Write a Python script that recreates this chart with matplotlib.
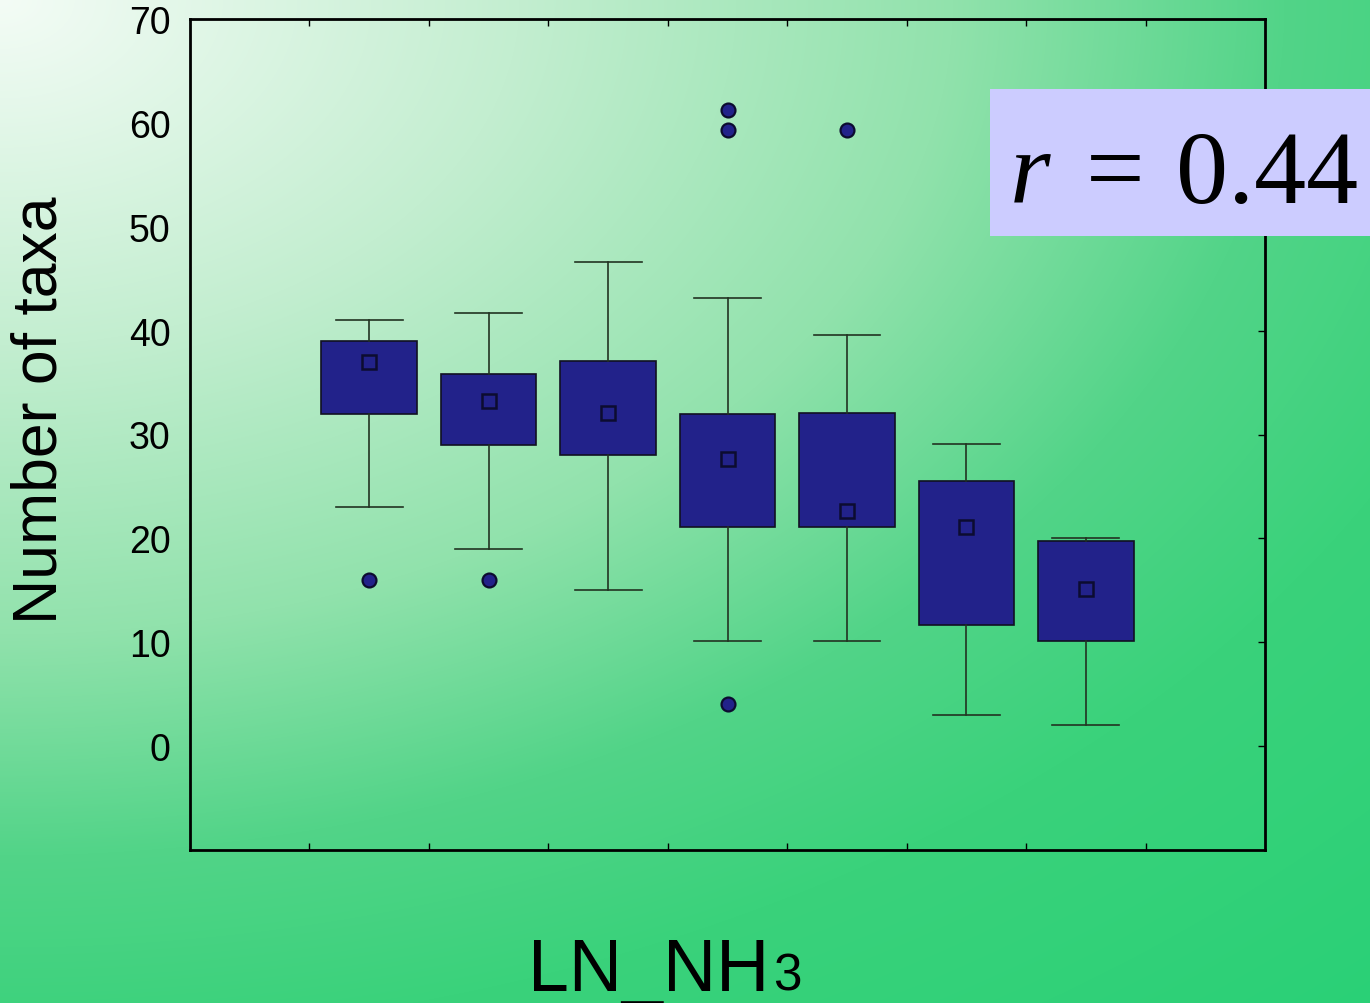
import matplotlib
matplotlib.use('Agg')
import matplotlib.pyplot as plt
import numpy as np
from matplotlib.patches import Rectangle

plt.rcParams['font.family'] = ['Liberation Sans', 'DejaVu Sans']

# box statistics (number of taxa per LN_NH3 class)
positions = [1.5, 2.5, 3.5, 4.5, 5.5, 6.5, 7.5]
whisker_low = [23.0, 19.0, 15.0, 10.1, 10.1, 3.0, 2.0]
q1 = [32.0, 29.0, 28.0, 21.1, 21.1, 11.7, 10.1]
q3 = [39.0, 35.8, 37.1, 32.0, 32.1, 25.5, 19.7]
whisker_high = [41.0, 41.7, 46.6, 43.1, 39.6, 29.1, 20.0]
means = [37.0, 33.2, 32.1, 27.6, 22.6, 21.1, 15.1]
outliers = [[16.0], [16.0], [], [61.2, 59.3, 4.1], [59.3], [], []]
y_ticks = [0, 10, 20, 30, 40, 50, 60, 70]
r_value = '0.44'

navy = '#22228a'

fig = plt.figure(figsize=(13.7, 10.04), dpi=100)

# background gradient (light top-left corner fading to green)
W, H = 1370, 1004
xx, yy = np.meshgrid(np.arange(W), np.arange(H))
d = np.sqrt((xx / 1.5) ** 2 + yy ** 2)
stops = [0, 346, 635, 856, 1040, 1400]
reds = [244, 195, 145, 82, 58, 40]
greens = [252, 238, 226, 212, 210, 208]
blues = [246, 208, 172, 136, 123, 118]
img = np.dstack([np.interp(d, stops, reds), np.interp(d, stops, greens),
                 np.interp(d, stops, blues)]) / 255.0
bg = fig.add_axes([0, 0, 1, 1], zorder=-1)
bg.imshow(img, aspect='auto', extent=[0, 1, 0, 1], origin='upper')
bg.axis('off')

ax = fig.add_axes([190 / W, 1 - 851 / H, 1075 / W, 831 / H], zorder=1)
ax.set_facecolor('none')

stats = []
for i in range(len(positions)):
    stats.append(dict(whislo=whisker_low[i], q1=q1[i], med=means[i], q3=q3[i],
                      whishi=whisker_high[i], mean=means[i], fliers=outliers[i]))

ax.bxp(stats, positions=positions, widths=0.8, capwidths=0.56, patch_artist=True,
       showmeans=True, showfliers=True,
       boxprops=dict(facecolor=navy, edgecolor='#111122', linewidth=1.2),
       whiskerprops=dict(color='#223322', linewidth=1.2),
       capprops=dict(color='#223322', linewidth=1.2),
       medianprops=dict(linewidth=0),
       meanprops=dict(marker='s', markersize=10, markerfacecolor=navy,
                      markeredgecolor='#0c0c30', markeredgewidth=1.8),
       flierprops=dict(marker='o', markersize=10, markerfacecolor=navy,
                       markeredgecolor='#0c0c30', markeredgewidth=1.6))

ax.set_xlim(0, 9)
ax.set_ylim(-10, 70)
ax.set_xticks(range(1, 9))
ax.set_xticklabels([])
ax.set_yticks(y_ticks)
ax.set_yticklabels([str(t) for t in y_ticks], fontsize=27)
ax.tick_params(axis='x', direction='in', top=True, bottom=True, length=5, width=1)
ax.tick_params(axis='y', direction='in', left=False, right=True, length=5, width=1,
               pad=14)
for s in ax.spines.values():
    s.set_linewidth(2)

fig.text(40 / W, 1 - 410 / H, 'Number of taxa', rotation=90, fontsize=45,
         ha='center', va='center')

fig.text(528 / W, 1 - 991 / H, 'LN_NH', fontsize=53, ha='left', va='baseline')
fig.text(773 / W, 1 - 991 / H, '3', fontsize=37, ha='left', va='baseline')

# correlation label
fig.add_artist(Rectangle((990 / W, 1 - 237 / H), 380 / W, 147 / H,
                         transform=fig.transFigure, facecolor='#ccccff',
                         edgecolor='none', zorder=5))
serif = ['Liberation Serif', 'DejaVu Serif']
fig.text(1010 / W, 1 - 203 / H, 'r', fontsize=75, family=serif, style='italic',
         ha='left', va='baseline', zorder=6)
fig.text(1086 / W, 1 - 203 / H, '=', fontsize=75, family=serif,
         ha='left', va='baseline', zorder=6)
fig.text(1176 / W, 1 - 203 / H, r_value, fontsize=75, family=serif,
         ha='left', va='baseline', zorder=6)

fig.savefig('out.png', dpi=100)
